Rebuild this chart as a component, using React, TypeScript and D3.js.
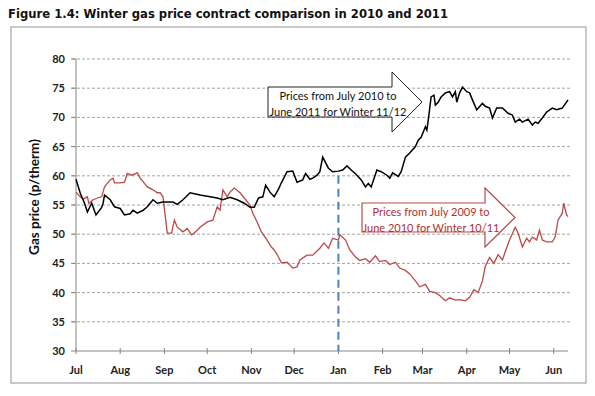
import React from "react";
import * as d3 from "d3";

// Days after 1 July of each season, and gas price (p/therm)
const winter1112Days = [0,3,6,8,11,14,18,19,20,24,27,31,34,38,40,43,47,50,54,57,61,68,71,75,80,87,94,99,103,108,113,118,122,125,128,131,133,136,139,142,144,148,152,155,159,161,164,166,169,171,173,177,180,184,187,190,193,197,200,203,205,207,211,214,218,220,222,226,228,231,234,238,240,242,245,246,247,249,251,252,254,256,259,262,264,266,267,269,271,274,276,278,281,285,287,290,292,295,299,303,306,308,311,313,317,320,322,324,327,330,334,337,341,345];
const winter1112Values = [59.4,57,55.3,53.8,55.3,53.3,54.6,55.3,56.7,55.9,54.7,54.4,53.3,53.5,54.1,53.6,54.1,54.7,55.9,55.3,55.5,55.5,55.1,55.9,57.1,56.7,56.4,56.2,55.9,56.3,55.9,55.3,54.6,54.6,56.2,56.4,58.4,57.2,56.4,57.7,58.8,60.7,60.8,58.9,59.3,60.4,59.4,59.6,60.1,60.7,63.2,61.3,60.7,60.8,61,61.7,61,60.1,59.3,58.1,58.7,58.1,61,60.7,60.1,59.6,60.5,59.9,60.7,63.2,63.9,65,66.1,66.6,68.4,67.8,69.5,73.5,73.8,72.1,72.6,73.5,74.2,74.4,73.5,74.4,72.6,74.2,75.2,74.4,74.2,73,71.3,72.4,71.9,71.6,69.9,71.6,71.6,70.7,70.4,69.2,69.7,69.2,69.7,68.7,69.2,69,69.9,70.9,71.6,71.3,71.6,73];

const winter1011Days = [0,3,5,8,9,12,15,18,20,24,26,27,31,34,36,39,43,45,47,50,54,57,59,61,64,67,69,71,75,78,81,83,87,92,96,99,101,103,106,108,111,115,118,122,124,127,130,134,137,139,142,144,148,150,152,155,157,162,166,171,174,177,180,184,185,189,192,196,199,203,206,210,213,217,220,224,227,231,234,238,241,245,248,252,255,259,262,266,269,273,276,279,282,285,287,290,293,296,299,301,304,308,310,313,316,318,320,323,325,327,330,334,336,338,341,342,344,345];
const winter1011Values = [57.2,56.4,56,56.4,55.3,55.9,56.2,56.4,58.1,59.3,59.6,58.8,58.8,58.9,60.4,60.1,60.5,59.6,59,58.1,57.6,57.1,57.1,56.4,50.2,50.2,52.4,51.2,50.4,51,49.9,50.2,51.2,52.1,52.4,54.7,54.1,57.6,56.4,57.2,57.9,57.1,56.2,55,53.6,52.1,50.4,49,47.8,47.3,46.1,45.1,45.2,44.7,44.2,44.4,45.6,46.4,46.4,47.6,48.5,47.6,49.3,49,49.9,49,47.3,46.1,45.5,45.8,45.2,46.3,45.3,45.5,44.8,45.2,44.2,43.8,43.2,42,41,41.4,40.2,40,39.5,38.6,39.1,38.7,38.8,38.6,39.2,40.5,40,42,44.5,46,45,46.5,45.6,47,49,51.2,50.2,47.8,49.3,48.7,49.5,49,50.7,49,48.7,48.7,49.5,52.4,53.6,55.3,53.3,53];

const yTicks = [30, 35, 40, 45, 50, 55, 60, 65, 70, 75, 80];
const monthLabels = ["Jul","Aug","Sep","Oct","Nov","Dec","Jan","Feb","Mar","Apr","May","Jun"];
const startDate = new Date(2010, 6, 1);
const endDate = new Date(2011, 5, 11);
const janMarker = { date: new Date(2011, 0, 1), from: 60, to: 30 };

const title = "Figure 1.4: Winter gas price contract comparison in 2010 and 2011";
const yTitle = "Gas price (p/therm)";
const blackNote = ["Prices from July 2010 to", "June 2011 for Winter 11/12"];
const redNote = ["Prices from July 2009 to", "June 2010 for Winter 10/11"];

const RED = "#b94a48";

function arrowPath(l: number, t: number, b: number, hx: number, ht: number, hb: number, tip: number) {
  const m = (t + b) / 2;
  return `M${l},${t}L${hx},${t}L${hx},${ht}L${tip},${m}L${hx},${hb}L${hx},${b}L${l},${b}Z`;
}

export default function App() {
  const W = 595, H = 396;
  const x = d3.scaleTime().domain([startDate, endDate]).range([76, 568]);
  const y = d3.scaleLinear().domain([30, 80]).range([351, 59]);
  const months = d3.timeMonth.range(startDate, new Date(2011, 5, 2));

  const toPts = (days: number[], vals: number[]) =>
    days.map((d, i) => ({ date: d3.timeDay.offset(startDate, d), v: vals[i] }));
  const line = d3.line<{ date: Date; v: number }>().x(d => x(d.date)).y(d => y(d.v));
  const black = toPts(winter1112Days, winter1112Values);
  const red = toPts(winter1011Days, winter1011Values);
  const font = "Lato, 'Open Sans', sans-serif";

  return (
    <svg width={W} height={H} style={{ position: "absolute", left: 0, top: 0, background: "#fff" }}>
      <text x={8} y={18} fontFamily="'DejaVu Sans', Verdana, sans-serif" fontWeight="bold" fontSize={11.5}
        textLength={440} lengthAdjust="spacingAndGlyphs" fill="#111">{title}</text>
      <rect x={11} y={27} width={575} height={356} fill="#fff" stroke="#a6a6a6" strokeWidth={1.2} />

      {yTicks.filter(t => t > 30).map(t => (
        <line key={t} x1={72} x2={570} y1={y(t)} y2={y(t)} stroke="#8c8c8c" strokeWidth={0.8} strokeDasharray="3,2" />
      ))}
      {yTicks.map(t => (
        <g key={"yl" + t}>
          <line x1={71} x2={76} y1={y(t)} y2={y(t)} stroke="#868686" />
          <text x={65} y={y(t) + 4} textAnchor="end" fontFamily={font} fontWeight="bold" fontSize={11} fill="#222">{t}</text>
        </g>
      ))}
      <line x1={76} x2={76} y1={y(80)} y2={y(30)} stroke="#868686" />
      <line x1={76} x2={568} y1={y(30)} y2={y(30)} stroke="#868686" />
      {months.map((m, i) => (
        <g key={"m" + i}>
          <line x1={x(m)} x2={x(m)} y1={y(30) - 3} y2={y(30) + 3} stroke="#868686" />
          <text x={x(m)} y={374} textAnchor="middle" fontFamily={font} fontWeight="bold" fontSize={11} fill="#222">{monthLabels[i]}</text>
        </g>
      ))}
      <text transform={`translate(39,197) rotate(-90)`} textAnchor="middle" fontFamily={font} fontWeight="bold" fontSize={13.5} fill="#111">{yTitle}</text>

      <line x1={x(janMarker.date)} x2={x(janMarker.date)} y1={y(janMarker.from)} y2={y(janMarker.to)}
        stroke="#4f81bd" strokeWidth={2} strokeDasharray="8,5" />

      <path d={line(red) || ""} fill="none" stroke={RED} strokeWidth={1.3} />
      <path d={line(black) || ""} fill="none" stroke="#000" strokeWidth={1.5} />

      <path d={arrowPath(268, 87, 117, 392, 72, 132, 422)} fill="#fff" stroke="#222" strokeWidth={1} />
      {blackNote.map((s, i) => (
        <text key={"b" + i} x={338} y={100 + i * 15.5} textAnchor="middle" fontFamily={font} fontSize={11} fill="#111">{s}</text>
      ))}
      <path d={arrowPath(362, 203, 232, 485, 188, 247, 515)} fill="#fff" stroke={RED} strokeWidth={1.2} />
      {redNote.map((s, i) => (
        <text key={"r" + i} x={431} y={216 + i * 16} textAnchor="middle" fontFamily={font} fontSize={11} fill="#b03030">{s}</text>
      ))}
    </svg>
  );
}
